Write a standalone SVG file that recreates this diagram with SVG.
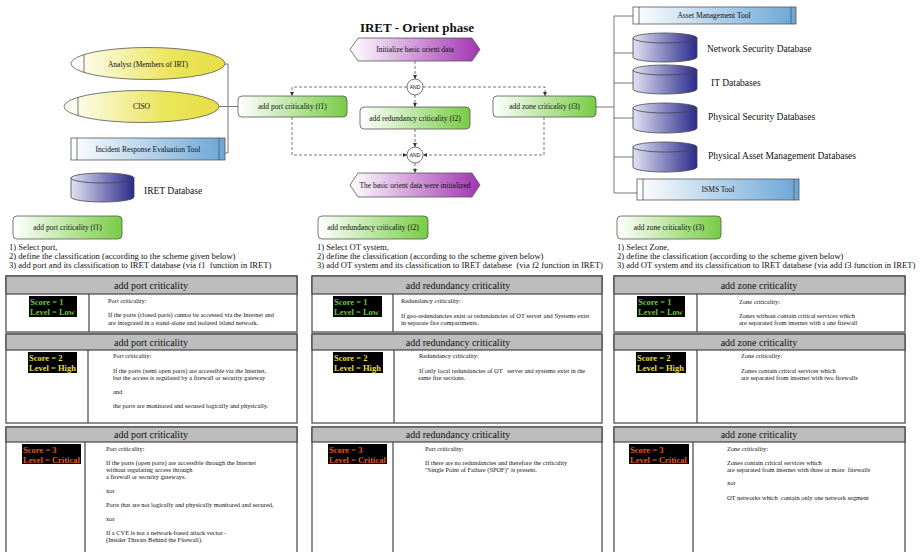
<svg xmlns="http://www.w3.org/2000/svg" width="920" height="552" viewBox="0 0 920 552">
  <defs>
    <linearGradient id="gYellow" x1="0" y1="0" x2="1" y2="0">
      <stop offset="0" stop-color="#ffffff"/>
      <stop offset="0.65" stop-color="#ebe55a"/>
      <stop offset="1" stop-color="#e6df45"/>
    </linearGradient>
    <linearGradient id="gBlue" x1="0" y1="0" x2="1" y2="0">
      <stop offset="0" stop-color="#ffffff"/>
      <stop offset="1" stop-color="#6aa6d6"/>
    </linearGradient>
    <linearGradient id="gGreen" x1="0" y1="0" x2="1" y2="0">
      <stop offset="0" stop-color="#ffffff"/>
      <stop offset="1" stop-color="#78cc45"/>
    </linearGradient>
    <linearGradient id="gPurple" x1="0" y1="0" x2="1" y2="0">
      <stop offset="0" stop-color="#ffffff"/>
      <stop offset="1" stop-color="#a234b2"/>
    </linearGradient>
    <linearGradient id="gDb" x1="0" y1="0" x2="1" y2="0">
      <stop offset="0" stop-color="#e2e2f4"/>
      <stop offset="1" stop-color="#2a2a8a"/>
    </linearGradient>
    <marker id="arr" viewBox="0 0 10 10" refX="10" refY="5" markerWidth="5" markerHeight="5" orient="auto">
      <path d="M0,0 L10,5 L0,10 Z" fill="#333"/>
    </marker>
    <style>
      text { font-family: "Liberation Serif", "Times New Roman", serif; fill: #111; white-space: pre; }
      .title { font-size: 13px; font-weight: bold; text-anchor: middle; }
      .nt { font-size: 7.5px; text-anchor: middle; }
      .lbl { font-size: 9.5px; }
      .step { font-size: 8.6px; }
      .hd { font-size: 10px; text-anchor: middle; }
      .sm { font-size: 6.4px; }
      .sc { font-size: 8.5px; font-weight: bold; }
      .low { fill: #6cc23a; }
      .high { fill: #e6dc3c; }
      .crit { fill: #e4561c; }
      .and { font-family: "Liberation Sans", Arial, sans-serif; font-size: 5px; text-anchor: middle; }
      .edge { fill: #fff; stroke: #555; stroke-width: 0.8; }
      .ell { fill: url(#gYellow); stroke: #555; stroke-width: 0.8; }
      .tool { fill: url(#gBlue); stroke: #555; stroke-width: 0.8; }
      .fn { fill: url(#gGreen); stroke: #555; stroke-width: 0.8; }
      .ev { fill: url(#gPurple); stroke: #555; stroke-width: 0.8; }
      .db { fill: url(#gDb); stroke: #444; stroke-width: 0.8; }
      .in { stroke: #555; stroke-width: 0.8; }
      .solid { fill: none; stroke: #777; stroke-width: 1; }
      .dash { fill: none; stroke: #555; stroke-width: 0.8; stroke-dasharray: 3 2; }
      .tb { fill: #fff; stroke: #444; stroke-width: 1.2; }
      .th { fill: #bdbdbd; stroke: #444; stroke-width: 1.2; }
      .col { stroke: #444; stroke-width: 1.2; }
      .box { fill: #000; }
    </style>
  </defs>

  <rect width="920" height="552" fill="#fff"/>

  <text class="title" x="417" y="32">IRET - Orient phase</text>

  <!-- connectors -->
  <g id="connectors">
    <polyline class="solid" points="225,64 228,64 228,153 225,153"/>
    <line class="solid" x1="219" y1="106.5" x2="238" y2="106.5"/>
    <line class="solid" x1="596" y1="107" x2="614" y2="107"/>
    <line class="solid" x1="614" y1="16" x2="614" y2="193"/>
    <line class="solid" x1="614" y1="16" x2="633" y2="16"/>
    <line class="solid" x1="614" y1="53" x2="633" y2="53"/>
    <line class="solid" x1="614" y1="83" x2="633" y2="83"/>
    <line class="solid" x1="614" y1="118" x2="633" y2="118"/>
    <line class="solid" x1="614" y1="157" x2="633" y2="157"/>
    <line class="solid" x1="614" y1="193" x2="637" y2="193"/>

    <line class="dash" x1="415" y1="61" x2="415" y2="79" marker-end="url(#arr)"/>
    <polyline class="dash" points="407,87 292,87 292,96" marker-end="url(#arr)"/>
    <polyline class="dash" points="423,87 545,87 545,96" marker-end="url(#arr)"/>
    <line class="dash" x1="415" y1="95" x2="415" y2="107" marker-end="url(#arr)"/>
    <polyline class="dash" points="292,117 292,155 407,155" marker-end="url(#arr)"/>
    <polyline class="dash" points="544,117 544,155 423,155" marker-end="url(#arr)"/>
    <line class="dash" x1="415" y1="129" x2="415" y2="147" marker-end="url(#arr)"/>
    <line class="dash" x1="415" y1="163" x2="415" y2="173" marker-end="url(#arr)"/>
  </g>

  <!-- participants -->
  <g id="analyst">
    <ellipse class="ell" cx="148" cy="63.5" rx="77" ry="16"/>
    <line class="in" x1="84" y1="54.6" x2="84" y2="72.4"/>
    <text class="nt" x="148" y="66.5">Analyst (Members of IRT)</text>
  </g>
  <g id="ciso">
    <ellipse class="ell" cx="141.5" cy="106.5" rx="77.5" ry="16"/>
    <line class="in" x1="78" y1="97.3" x2="78" y2="115.7"/>
    <text class="nt" x="141.5" y="109">CISO</text>
  </g>
  <g id="iret-tool">
    <rect class="tool" x="71" y="138" width="154" height="22"/>
    <line class="in" x1="77" y1="138" x2="77" y2="160"/>
    <line class="in" x1="219" y1="138" x2="219" y2="160"/>
    <text class="nt" x="148" y="151.5">Incident Response Evaluation Tool</text>
  </g>
  <g id="iret-db">
    <path class="db" d="M71,178 V197 A31.5,5 0 0 0 134,197 V178 Z"/>
    <ellipse class="db" cx="102.5" cy="178" rx="31.5" ry="5"/>
    <text class="lbl" x="144" y="194">IRET Database</text>
  </g>

  <!-- process flow -->
  <g id="start-event">
    <polygon class="ev" points="350,49.5 358,38 472,38 480,49.5 472,61 358,61"/>
    <text class="nt" x="415" y="52">Initialize basic orient data</text>
  </g>
  <g id="and-split">
    <circle class="edge" cx="415" cy="87" r="8"/>
    <text class="and" x="415" y="88.8">AND</text>
  </g>
  <g id="f1">
    <rect class="fn" x="238" y="96" width="109" height="21" rx="4"/>
    <text class="nt" x="292.5" y="109">add port criticality (f1)</text>
  </g>
  <g id="f2">
    <rect class="fn" x="360" y="107" width="110" height="22" rx="4"/>
    <text class="nt" x="415" y="120.5">add redundancy criticality (f2)</text>
  </g>
  <g id="f3">
    <rect class="fn" x="493" y="96" width="103" height="21" rx="4"/>
    <text class="nt" x="544.5" y="109">add zone criticality (f3)</text>
  </g>
  <g id="and-join">
    <circle class="edge" cx="415" cy="155" r="8"/>
    <text class="and" x="415" y="156.8">AND</text>
  </g>
  <g id="end-event">
    <polygon class="ev" points="350,185 358,173 472,173 480,185 472,197 358,197"/>
    <text class="nt" x="415" y="187.5">The basic orient data were initialized</text>
  </g>

  <!-- data sources -->
  <g id="asset-tool">
    <rect class="tool" x="633" y="7" width="163" height="17"/>
    <line class="in" x1="639" y1="7" x2="639" y2="24"/>
    <line class="in" x1="791" y1="7" x2="791" y2="24"/>
    <text class="nt" x="714" y="18">Asset Management Tool</text>
  </g>
  <g id="netsec-db">
    <path class="db" d="M633,38 V57 A32,5 0 0 0 697,57 V38 Z"/>
    <ellipse class="db" cx="665" cy="38" rx="32" ry="5"/>
    <text class="lbl" x="707" y="52">Network Security Database</text>
  </g>
  <g id="it-db">
    <path class="db" d="M633,70 V89 A32,5 0 0 0 697,89 V70 Z"/>
    <ellipse class="db" cx="665" cy="70" rx="32" ry="5"/>
    <text class="lbl" x="711" y="86">IT Databases</text>
  </g>
  <g id="physec-db">
    <path class="db" d="M633,108 V128 A32,5 0 0 0 697,128 V108 Z"/>
    <ellipse class="db" cx="665" cy="108" rx="32" ry="5"/>
    <text class="lbl" x="708" y="119.5">Physical Security Databases</text>
  </g>
  <g id="asset-db">
    <path class="db" d="M633,147 V167 A32,5 0 0 0 697,167 V147 Z"/>
    <ellipse class="db" cx="665" cy="147" rx="32" ry="5"/>
    <text class="lbl" x="708" y="159">Physical Asset Management Databases</text>
  </g>
  <g id="isms-tool">
    <rect class="tool" x="637" y="179" width="162" height="21"/>
    <line class="in" x1="643" y1="179" x2="643" y2="200"/>
    <line class="in" x1="794" y1="179" x2="794" y2="200"/>
    <text class="nt" x="718" y="192">ISMS Tool</text>
  </g>

  <!-- f1 details -->
  <g id="f1-detail">
    <rect class="fn" x="13" y="216" width="109" height="23" rx="4"/>
    <text class="nt" x="67.5" y="230">add port criticality (f1)</text>
    <text class="step" x="9" y="250">1) Select port,</text>
    <text class="step" x="9" y="259">2) define the classification (according to the scheme given below)</text>
    <text class="step" x="9" y="268">3) add port and its classification to IRET database (via f1  function in IRET)</text>

    <rect class="tb" x="6" y="276" width="291" height="56"/>
    <rect class="th" x="6" y="276" width="291" height="18"/>
    <line class="col" x1="89" y1="294" x2="89" y2="332"/>
    <text class="hd" x="151" y="289">add port criticality</text>
    <rect class="box" x="29" y="296" width="48" height="21"/>
    <text class="sc low" x="30" y="305">Score = 1</text>
    <text class="sc low" x="30" y="315">Level = Low</text>
    <text class="sm" x="108" y="303">Port criticality:</text>
    <text class="sm" x="108" y="317">If the ports (closed ports) cannot be accessed via the Internet and</text>
    <text class="sm" x="108" y="325">are integrated in a stand-alone and isolated island network.</text>

    <rect class="tb" x="6" y="334" width="291" height="89"/>
    <rect class="th" x="6" y="334" width="291" height="16"/>
    <line class="col" x1="88" y1="350" x2="88" y2="423"/>
    <text class="hd" x="151" y="345.5">add port criticality</text>
    <rect class="box" x="28" y="352" width="49" height="21"/>
    <text class="sc high" x="29" y="361">Score = 2</text>
    <text class="sc high" x="29" y="371">Level = High</text>
    <text class="sm" x="113" y="358">Port criticality:</text>
    <text class="sm" x="113" y="373">If the ports (semi open ports) are accessible via the Internet,</text>
    <text class="sm" x="113" y="380">but the access is regulated by a firewall or security gateway</text>
    <text class="sm" x="113" y="394">and</text>
    <text class="sm" x="113" y="408">the ports are monitored and secured logically and physically.</text>

    <rect class="tb" x="6" y="427" width="291" height="140"/>
    <rect class="th" x="6" y="427" width="291" height="15"/>
    <line class="col" x1="85" y1="442" x2="85" y2="567"/>
    <text class="hd" x="151" y="438">add port criticality</text>
    <rect class="box" x="22" y="444" width="59" height="20"/>
    <text class="sc crit" x="23" y="453">Score = 3</text>
    <text class="sc crit" x="23" y="462.5">Level = Critical</text>
    <text class="sm" x="106" y="451">Port criticality:</text>
    <text class="sm" x="106" y="465">If the ports (open ports) are accessible through the Internet</text>
    <text class="sm" x="106" y="472">without regulating access through</text>
    <text class="sm" x="106" y="479">a firewall or security gateways.</text>
    <text class="sm" x="106" y="493">xor</text>
    <text class="sm" x="106" y="507">Ports that are not logically and physically monitored and secured,</text>
    <text class="sm" x="106" y="521">xor</text>
    <text class="sm" x="106" y="535">If a CVE is not a network-based attack vector -</text>
    <text class="sm" x="106" y="542">(Insider Threats Behind the Firewall).</text>
  </g>

  <!-- f2 details -->
  <g id="f2-detail">
    <rect class="fn" x="318" y="216" width="110" height="23" rx="4"/>
    <text class="nt" x="373" y="230">add redundancy criticality (f2)</text>
    <text class="step" x="317" y="250">1) Select OT system,</text>
    <text class="step" x="317" y="259">2) define the classification (according to the scheme given below)</text>
    <text class="step" x="317" y="268">3) add OT system and its classification to IRET database  (via f2 function in IRET)</text>

    <rect class="tb" x="312" y="276" width="290" height="56"/>
    <rect class="th" x="312" y="276" width="290" height="18"/>
    <line class="col" x1="393" y1="294" x2="393" y2="332"/>
    <text class="hd" x="458" y="289">add redundancy criticality</text>
    <rect class="box" x="333" y="296" width="49" height="21"/>
    <text class="sc low" x="334" y="305">Score = 1</text>
    <text class="sc low" x="334" y="315">Level = Low</text>
    <text class="sm" x="401" y="303">Redundancy criticality:</text>
    <text class="sm" x="401" y="318">If geo-redundancies exist or redundancies of OT server and Systems exist</text>
    <text class="sm" x="401" y="325">in separate fire compartments.</text>

    <rect class="tb" x="312" y="334" width="290" height="89"/>
    <rect class="th" x="312" y="334" width="290" height="16"/>
    <line class="col" x1="394" y1="350" x2="394" y2="423"/>
    <text class="hd" x="458" y="345.5">add redundancy criticality</text>
    <rect class="box" x="333" y="352" width="50" height="21"/>
    <text class="sc high" x="334" y="361">Score = 2</text>
    <text class="sc high" x="334" y="371">Level = High</text>
    <text class="sm" x="419" y="358">Redundancy criticality:</text>
    <text class="sm" x="419" y="373">If only local redundancies of OT   server and systems exist in the</text>
    <text class="sm" x="418" y="380">same fire sections.</text>

    <rect class="tb" x="312" y="427" width="290" height="140"/>
    <rect class="th" x="312" y="427" width="290" height="15"/>
    <line class="col" x1="393" y1="442" x2="393" y2="567"/>
    <text class="hd" x="458" y="438">add redundancy criticality</text>
    <rect class="box" x="328" y="444" width="59" height="20"/>
    <text class="sc crit" x="329" y="453">Score = 3</text>
    <text class="sc crit" x="329" y="462.5">Level = Critical</text>
    <text class="sm" x="425" y="451">Port criticality:</text>
    <text class="sm" x="425" y="465">If there are no redundancies and therefore the criticality</text>
    <text class="sm" x="425" y="472">"Single Point of Failure (SPOF)" is present.</text>
  </g>

  <!-- f3 details -->
  <g id="f3-detail">
    <rect class="fn" x="617" y="216" width="104" height="23" rx="4"/>
    <text class="nt" x="669" y="230">add zone criticality (f3)</text>
    <text class="step" x="617" y="250">1) Select Zone,</text>
    <text class="step" x="617" y="259">2) define the classification (according to the scheme given below)</text>
    <text class="step" x="617" y="268">3) add OT system and its classification to IRET database (via add f3 function in IRET)</text>

    <rect class="tb" x="614" y="276" width="291" height="56"/>
    <rect class="th" x="614" y="276" width="291" height="18"/>
    <line class="col" x1="697" y1="294" x2="697" y2="332"/>
    <text class="hd" x="759" y="289">add zone criticality</text>
    <rect class="box" x="637" y="296" width="48" height="21"/>
    <text class="sc low" x="638" y="305">Score = 1</text>
    <text class="sc low" x="638" y="315">Level = Low</text>
    <text class="sm" x="739" y="304">Zone criticality:</text>
    <text class="sm" x="739" y="318">Zones without contain critical services which</text>
    <text class="sm" x="739" y="325">are separated from internet with a one firewall</text>

    <rect class="tb" x="614" y="334" width="291" height="89"/>
    <rect class="th" x="614" y="334" width="291" height="16"/>
    <line class="col" x1="697" y1="350" x2="697" y2="423"/>
    <text class="hd" x="759" y="345.5">add zone criticality</text>
    <rect class="box" x="636" y="352" width="50" height="21"/>
    <text class="sc high" x="637" y="361">Score = 2</text>
    <text class="sc high" x="637" y="371">Level = High</text>
    <text class="sm" x="741" y="358">Zone criticality:</text>
    <text class="sm" x="741" y="373">Zones contain critical services which</text>
    <text class="sm" x="741" y="380">are separated from internet with two firewalls</text>

    <rect class="tb" x="614" y="427" width="291" height="140"/>
    <rect class="th" x="614" y="427" width="291" height="15"/>
    <line class="col" x1="693" y1="442" x2="693" y2="567"/>
    <text class="hd" x="759" y="438">add zone criticality</text>
    <rect class="box" x="629" y="444" width="60" height="20"/>
    <text class="sc crit" x="630" y="453">Score = 3</text>
    <text class="sc crit" x="630" y="462.5">Level = Critical</text>
    <text class="sm" x="727" y="451">Zone criticality:</text>
    <text class="sm" x="727" y="465">Zones contain critical services which</text>
    <text class="sm" x="727" y="472">are separated from internet with three or more  firewalls</text>
    <text class="sm" x="727" y="485">xor</text>
    <text class="sm" x="727" y="500">OT networks which  contain only one network segment</text>
  </g>
</svg>
